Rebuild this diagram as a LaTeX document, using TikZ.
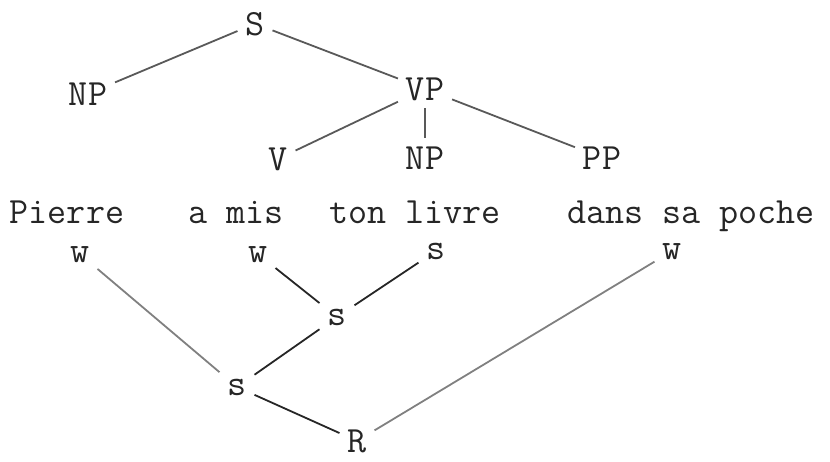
\documentclass[tikz,border=0pt]{standalone}
\usepackage{fontspec}
\usetikzlibrary{positioning}

\begin{document}
\begin{tikzpicture}[
    x = 0.5pt, y = -0.5pt,
    every node/.style = {inner sep = 1pt, outer sep = 3pt, anchor = base,
      text = black!85, font = \ttfamily\fontsize{18.5}{22}\selectfont},
    branch/.style = {draw = black!65, line width = 0.9pt},
    stress/.style = {draw = black!85, line width = 0.9pt},
    faint/.style  = {draw = black!50, line width = 0.9pt}
  ]
  \useasboundingbox (0,0) rectangle (830,461);

  % syntax tree
  \node (S)   at (255,35)  {S};
  \node (NP)  at (88,105)  {NP};
  \node (VP)  at (425,100) {VP};
  \node (V)   at (278,170) {V};
  \node (NP2) at (425,169) {NP};
  \node (PP)  at (602,169) {PP};

  % words
  \node (pierre) at (67,223)  {Pierre};
  \node (amis)   at (236,223) {a mis};
  \node (livre)  at (415,223) {ton livre};
  \node (poche)  at (691,223) {dans sa poche};

  % metrical tree
  \node (w1) at (80,262)  {w};
  \node (w2) at (258,262) {w};
  \node (s1) at (436,259) {s};
  \node (w3) at (672,259) {w};
  \node (s2) at (337,325) {s};
  \node (s3) at (237,395) {s};
  \node (R)  at (357,452) {R};

  % Branches
  \begin{scope}
    \draw[branch] (S)  -- (NP);
    \draw[branch] (S)  -- (VP);
    \draw[branch] (VP) -- (V);
    \draw[branch] (VP) -- (NP2);
    \draw[branch] (VP) -- (PP);

    \draw[faint]  (w1) -- (s3);
    \draw[stress] (w2) -- (s2);
    \draw[stress] (s1) -- (s2);
    \draw[stress] (s2) -- (s3);
    \draw[stress] (s3) -- (R);
    \draw[faint]  (R)  -- (w3);
  \end{scope}

\end{tikzpicture}
\end{document}
